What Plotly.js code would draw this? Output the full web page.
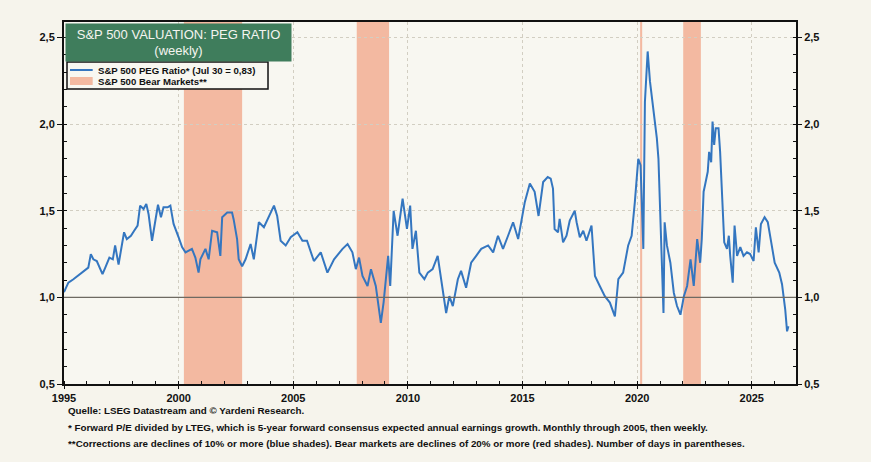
<!DOCTYPE html>
<html>
<head>
<meta charset="utf-8">
<script src="https://cdn.plot.ly/plotly-3.0.1.min.js"></script>
<style>
  html, body { margin: 0; padding: 0; background: #f6f4ec; }
  #chart { width: 871px; height: 462px; }
</style>
</head>
<body>
<div id="chart"></div>
<script>
// ---- Data ----
const years = [
  1995.0,1995.09,1995.19,1995.41,1995.63,1995.84,1996.06,1996.17,1996.28,1996.43,
  1996.57,1996.68,1996.8,1996.98,1997.13,1997.23,1997.38,1997.52,1997.62,1997.74,
  1997.92,1998.06,1998.21,1998.32,1998.47,1998.59,1998.69,1998.84,1998.98,1999.1,
  1999.23,1999.34,1999.52,1999.64,1999.78,1999.9,2000.0,2000.15,2000.3,
  2000.58,2000.73,2000.87,2000.95,2001.17,2001.31,2001.46,2001.68,2001.82,2001.9,
  2002.12,2002.33,2002.4,2002.55,2002.62,2002.77,2002.92,2003.14,2003.28,2003.5,
  2003.72,2003.94,2004.16,2004.3,2004.45,2004.67,2004.89,2005.18,2005.4,2005.6,
  2005.9,2006.2,2006.49,2006.78,2007.15,2007.37,2007.58,2007.73,2007.87,2008.02,
  2008.24,2008.39,2008.6,2008.82,2008.94,2009.04,2009.14,2009.23,2009.38,2009.55,
  2009.77,2009.96,2010.1,2010.2,2010.35,2010.5,2010.72,2010.87,2011.08,2011.3,
  2011.45,2011.67,2011.81,2011.96,2012.18,2012.32,2012.54,2012.76,2012.98,2013.2,
  2013.5,2013.72,2013.93,2014.15,2014.37,2014.59,2014.81,2014.95,2015.1,2015.32,
  2015.53,2015.7,2015.9,2016.1,2016.23,2016.33,2016.4,2016.55,2016.62,2016.77,
  2016.92,2017.06,2017.28,2017.36,2017.5,2017.65,2017.79,2018.01,2018.16,2018.37,
  2018.59,2018.81,2019.03,2019.18,2019.39,2019.61,2019.76,2019.9,2020.05,2020.15,
  2020.23,2020.27,2020.34,2020.46,2020.56,2020.71,2020.86,2020.93,2021.0,2021.08,
  2021.15,2021.2,2021.3,2021.45,2021.6,2021.74,2021.89,2022.04,2022.18,2022.33,
  2022.47,2022.62,2022.75,2022.82,2022.9,2022.96,2023.08,2023.14,2023.23,2023.29,
  2023.36,2023.43,2023.55,2023.62,2023.73,2023.8,2023.92,2024.0,2024.06,2024.17,
  2024.25,2024.36,2024.5,2024.64,2024.79,2024.93,2025.08,2025.18,2025.3,2025.4,
  2025.56,2025.7,2025.85,2026.0,2026.2,2026.32,2026.46,2026.54,2026.6
];
const pegRatio = [
  1.03,1.056,1.085,1.105,1.127,1.153,1.172,1.25,1.22,1.21,
  1.172,1.134,1.172,1.23,1.22,1.30,1.19,1.29,1.376,1.337,
  1.356,1.385,1.415,1.53,1.51,1.54,1.48,1.327,1.453,1.535,
  1.463,1.52,1.52,1.53,1.424,1.385,1.347,1.29,1.26,
  1.28,1.23,1.143,1.22,1.28,1.22,1.385,1.376,1.24,1.463,
  1.49,1.49,1.45,1.337,1.22,1.18,1.22,1.308,1.22,1.434,
  1.405,1.463,1.53,1.47,1.327,1.30,1.347,1.376,1.327,1.327,
  1.21,1.26,1.143,1.22,1.28,1.308,1.26,1.163,1.23,1.124,
  1.066,1.163,1.066,0.853,0.97,1.105,1.24,1.066,1.50,1.356,
  1.57,1.395,1.53,1.28,1.385,1.143,1.105,1.143,1.163,1.24,
  1.105,0.91,1.007,0.95,1.105,1.153,1.056,1.20,1.24,1.28,
  1.30,1.26,1.356,1.28,1.356,1.434,1.337,1.434,1.55,1.657,
  1.61,1.47,1.666,1.695,1.686,1.628,1.395,1.376,1.453,1.318,
  1.356,1.443,1.50,1.434,1.347,1.385,1.327,1.415,1.124,1.066,
  1.007,0.97,0.89,1.105,1.143,1.30,1.356,1.55,1.80,1.764,
  1.49,1.28,2.13,2.42,2.247,2.09,1.92,1.80,1.53,1.163,
  0.91,1.434,1.30,1.20,1.027,0.95,0.90,1.007,1.066,1.22,
  1.066,1.337,1.20,1.337,1.61,1.647,1.725,1.84,1.78,2.015,
  1.88,1.977,1.977,1.84,1.49,1.318,1.28,1.356,1.24,1.085,
  1.415,1.24,1.29,1.24,1.26,1.25,1.21,1.405,1.26,1.424,
  1.463,1.434,1.318,1.20,1.143,1.076,0.93,0.804,0.834
];
// Bear markets (decimal years)
const bearStart = [2000.23, 2007.77, 2020.13, 2022.01];
const bearEnd   = [2002.77, 2009.18, 2020.22, 2022.78];
const refLevel = 1.0;
const xTickVals = [1995, 2000, 2005, 2010, 2015, 2020, 2025];
const yTickVals = [0.5, 1.0, 1.5, 2.0, 2.5];
const seriesName = 'S&P 500 PEG Ratio* (Jul 30 = 0,83)';
const bearName = 'S&P 500 Bear Markets**';

// ---- Styles ----
const FONT = 'Arial, "Liberation Sans", sans-serif';
const LINE_COLOR = '#3476c0';
const BAND_COLOR = '#f3b9a1';
const PLOT_BG = '#f8f7f1';
const yRange = [0.5, 2.59];
const axisFont = { family: FONT, size: 11, color: '#111' };
const fmt = v => '<b>' + v.toFixed(1).replace('.', ',') + '</b>';

const line = {
  x: years, y: pegRatio, type: 'scatter', mode: 'lines',
  line: { color: LINE_COLOR, width: 2 }, name: seriesName, showlegend: false
};
const rightDummy = { x: [years[0]], y: [pegRatio[0]], yaxis: 'y2', mode: 'none', showlegend: false, hoverinfo: 'skip' };

// bear market bands (shapes below traces)
const shapes = bearStart.map((s, i) => ({
  type: 'rect', xref: 'x', yref: 'paper', x0: s, x1: bearEnd[i], y0: 0, y1: 1,
  fillcolor: BAND_COLOR, line: { width: 0 }, layer: 'between'
}));
shapes.push({
  type: 'line', xref: 'paper', x0: 0, x1: 1, yref: 'y', y0: refLevel, y1: refLevel,
  line: { color: '#6e6a62', width: 1.1 }, layer: 'above'
});
// custom compact legend
shapes.push(
  { type: 'rect', xref: 'paper', yref: 'paper', x0: 0.0041, x1: 0.2787, y0: 0.8149, y1: 0.8895,
    fillcolor: PLOT_BG, line: { color: '#111', width: 1.5 }, layer: 'above' },
  { type: 'line', xref: 'paper', yref: 'paper', x0: 0.0082, x1: 0.0392, y0: 0.8674, y1: 0.8674,
    line: { color: LINE_COLOR, width: 2 }, layer: 'above' },
  { type: 'rect', xref: 'paper', yref: 'paper', x0: 0.0082, x1: 0.0392, y0: 0.826, y1: 0.848,
    fillcolor: BAND_COLOR, line: { width: 0 }, layer: 'above' }
);

const legFont = { family: FONT, size: 9.6, color: '#111' };
const noteFont = { family: FONT, size: 9.8, color: '#111' };
const layout = {
  width: 871, height: 462,
  margin: { l: 64, r: 75, t: 22, b: 78 },
  paper_bgcolor: '#f6f4ec', plot_bgcolor: PLOT_BG,
  separators: ',.',
  showlegend: false,
  xaxis: {
    range: [1995, 2026.93], tickvals: xTickVals, ticktext: xTickVals.map(v => '<b>' + v + '</b>'),
    ticks: 'outside', ticklen: 3, tickcolor: '#111',
    showgrid: true, gridcolor: '#d2cec2', griddash: 'dot', gridwidth: 1,
    showline: true, linecolor: '#111', linewidth: 2, mirror: true,
    tickfont: axisFont, zeroline: false,
    minor: { dtick: 1, ticks: 'inside', ticklen: 3, tickcolor: '#111', showgrid: false }
  },
  yaxis: {
    range: yRange, tickvals: yTickVals, ticktext: yTickVals.map(fmt),
    ticks: 'outside', ticklen: 5, tickcolor: '#111',
    showgrid: true, gridcolor: '#d2cec2', griddash: 'dot', gridwidth: 1,
    showline: true, linecolor: '#111', linewidth: 2, mirror: true,
    tickfont: axisFont, zeroline: false,
    minor: { dtick: 0.1, ticks: 'inside', ticklen: 3, tickcolor: '#111', showgrid: false }
  },
  yaxis2: {
    range: yRange, overlaying: 'y', side: 'right', tickvals: yTickVals,
    ticktext: yTickVals.map(fmt),
    ticks: 'outside', ticklen: 5, tickcolor: '#111', showgrid: false, zeroline: false,
    tickfont: axisFont,
    minor: { dtick: 0.1, ticks: 'inside', ticklen: 3, tickcolor: '#111', showgrid: false }
  },
  shapes: shapes,
  annotations: [
    {
      xref: 'paper', yref: 'paper', x: 0.157, y: 0.942, xanchor: 'center', yanchor: 'middle',
      text: 'S&P 500 VALUATION: PEG RATIO<br>(weekly)', showarrow: false,
      bgcolor: '#3f7d5c', width: 221, height: 33, borderpad: 2,
      font: { family: FONT, size: 13, color: '#f4f4ef' }
    },
    { xref: 'paper', yref: 'paper', x: 0.0437, y: 0.8674, xanchor: 'left', yanchor: 'middle', showarrow: false,
      text: '<b>' + seriesName + '</b>', font: legFont },
    { xref: 'paper', yref: 'paper', x: 0.0437, y: 0.837, xanchor: 'left', yanchor: 'middle', showarrow: false,
      text: '<b>' + bearName + '</b>', font: legFont },
    {
      xref: 'paper', yref: 'paper', x: 0.003, y: -0.072, xanchor: 'left', yanchor: 'middle', showarrow: false,
      text: '<b>Quelle: LSEG Datastream and © Yardeni Research.</b>', font: noteFont
    },
    {
      xref: 'paper', yref: 'paper', x: 0.003, y: -0.119, xanchor: 'left', yanchor: 'middle', showarrow: false,
      text: '<b>* Forward P/E divided by LTEG, which is 5-year forward consensus expected annual earnings growth. Monthly through 2005, then weekly.</b>',
      font: noteFont
    },
    {
      xref: 'paper', yref: 'paper', x: 0.003, y: -0.163, xanchor: 'left', yanchor: 'middle', showarrow: false,
      text: '<b>**Corrections are declines of 10% or more (blue shades). Bear markets are declines of 20% or more (red shades). Number of days in parentheses.</b>',
      font: noteFont
    }
  ]
};
Plotly.newPlot('chart', [line, rightDummy], layout, { displayModeBar: false, staticPlot: true });
</script>
</body>
</html>
